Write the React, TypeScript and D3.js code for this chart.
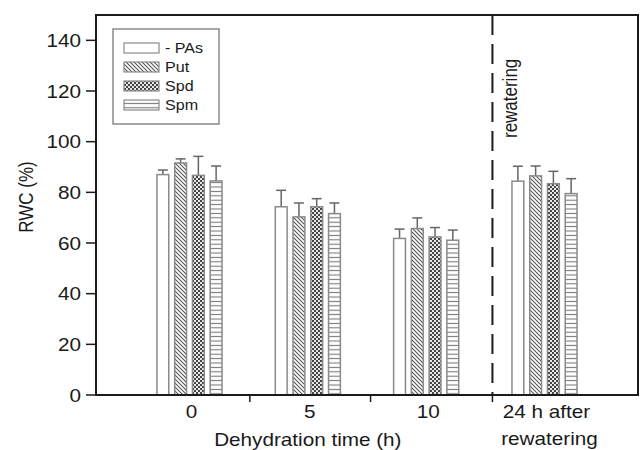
import React from 'react';
import * as d3 from 'd3';

// RWC (%) per treatment, for each sampling time
const groups = ['0', '5', '10', '24 h after|rewatering'];
const treatments = ['- PAs', 'Put', 'Spd', 'Spm'];
const pasMean = [87, 74.3, 61.8, 84.4];
const pasErr = [1.8, 6.5, 3.7, 5.9];
const putMean = [91.6, 70.3, 65.7, 86.5];
const putErr = [1.6, 5.5, 4.2, 3.9];
const spdMean = [86.7, 74.3, 62.4, 83.4];
const spdErr = [7.5, 3.2, 3.7, 4.9];
const spmMean = [84.5, 71.6, 61.1, 79.5];
const spmErr = [5.9, 4.2, 4.0, 5.9];
const yTicks = [0, 20, 40, 60, 80, 100, 120, 140];
const separators = [0.51, 1.53, 2.56];
const rewaterAt = 2.56;

const means = [pasMean, putMean, spdMean, spmMean];
const errs = [pasErr, putErr, spdErr, spmErr];
const fills = ['#fff', 'url(#pPut)', 'url(#pSpd)', 'url(#pSpm)'];

const W = 641, H = 450;
const left = 96, right = 638, top = 15, bottom = 395;
const SX = 1.15; // glyphs in the source are a bit wide
const ink = '#1a1a1a';
const barLine = '#8a8a8a';

const x = d3.scaleLinear().domain([-0.79, 3.79]).range([left, right]);
const y = d3.scaleLinear().domain([0, 150]).range([bottom, top]);
const step = x(1) - x(0);
const barW = step * 0.1;
const offset = (i: number) => (i - 1.5) * step * 0.15;

function Txt({ tx, ty, size, anchor = 'middle', rot = 0, children }: any) {
  return (
    <text
      transform={`translate(${tx},${ty}) rotate(${rot}) scale(${rot ? 1 : SX},${rot ? SX : 1})`}
      fontSize={size}
      textAnchor={anchor}
      fill={ink}
      fontFamily="'Liberation Sans', Arial, sans-serif"
    >
      {children}
    </text>
  );
}

export default function App() {
  return (
    <svg width={W} height={H} style={{ position: 'absolute', left: 0, top: 0, background: '#fff' }}>
      <defs>
        <pattern id="pPut" width={4} height={4} patternUnits="userSpaceOnUse">
          <rect width={4} height={4} fill="#fff" />
          <path d="M0,0 L4,4 M-1,3 L1,5 M3,-1 L5,1" stroke="#555" strokeWidth={1.1} />
        </pattern>
        <pattern id="pSpd" width={4} height={4} patternUnits="userSpaceOnUse">
          <rect width={4} height={4} fill="#e8e8e8" />
          <rect x={0} y={0} width={2} height={2} fill="#444" />
          <rect x={2} y={2} width={2} height={2} fill="#444" />
        </pattern>
        <pattern id="pSpm" width={4.4} height={4.4} patternUnits="userSpaceOnUse">
          <rect width={4.4} height={4.4} fill="#fff" />
          <line x1={0} x2={4.4} y1={2.2} y2={2.2} stroke="#777" strokeWidth={1.1} />
        </pattern>
      </defs>

      {/* bars and error bars */}
      {groups.map((g, gi) =>
        treatments.map((t, ti) => {
          const cx = x(gi) + offset(ti);
          const v = means[ti][gi];
          const e = errs[ti][gi];
          return (
            <g key={g + t}>
              <line x1={cx} x2={cx} y1={y(v)} y2={y(v + e)} stroke="#666" strokeWidth={1.5} />
              <line x1={cx - 5} x2={cx + 5} y1={y(v + e)} y2={y(v + e)} stroke="#666" strokeWidth={1.5} />
              <rect
                x={cx - barW / 2}
                y={y(v)}
                width={barW}
                height={y(0) - y(v)}
                fill={fills[ti]}
                stroke={barLine}
                strokeWidth={1.5}
              />
            </g>
          );
        })
      )}

      {/* dashed divider */}
      <line
        x1={x(rewaterAt)}
        x2={x(rewaterAt)}
        y1={top}
        y2={bottom}
        stroke={ink}
        strokeWidth={2}
        strokeDasharray="20,9"
      />
      <Txt tx={x(rewaterAt) + 25} ty={138} size={17} anchor="start" rot={-90}>
        rewatering
      </Txt>

      {/* frame */}
      <rect x={left} y={top} width={right - left} height={bottom - top} fill="none" stroke={ink} strokeWidth={2} />

      {/* y axis */}
      {yTicks.map((t) => (
        <g key={t}>
          <line x1={left - 10} x2={left} y1={y(t)} y2={y(t)} stroke={ink} strokeWidth={1.5} />
          <Txt tx={left - 15} ty={y(t) + 6.5} size={18} anchor="end">
            {t}
          </Txt>
        </g>
      ))}
      <Txt tx={33} ty={197} size={17} rot={-90}>
        RWC (%)
      </Txt>

      {/* x axis */}
      {separators.map((s) => (
        <line key={s} x1={x(s)} x2={x(s)} y1={bottom} y2={bottom + 7} stroke={ink} strokeWidth={1.5} />
      ))}
      {groups.map((g, gi) => {
        const lines = g.split('|');
        return lines.map((l, li) => (
          <Txt key={g + li} tx={x(gi) + (li ? 5 : 2)} ty={418 + li * 27} size={18}>
            {l}
          </Txt>
        ));
      })}
      <Txt tx={x(1)} ty={446} size={18}>
        Dehydration time (h)
      </Txt>

      {/* legend */}
      <rect x={113} y={29} width={106} height={95} fill="#fff" stroke={barLine} strokeWidth={1.5} />
      {treatments.map((t, ti) => {
        const ly = 48 + ti * 19;
        return (
          <g key={t}>
            <rect x={124} y={ly - 5} width={35} height={10} fill={fills[ti]} stroke={barLine} strokeWidth={1.2} />
            <Txt tx={165} ty={ly + 5} size={14} anchor="start">
              {t}
            </Txt>
          </g>
        );
      })}
    </svg>
  );
}
